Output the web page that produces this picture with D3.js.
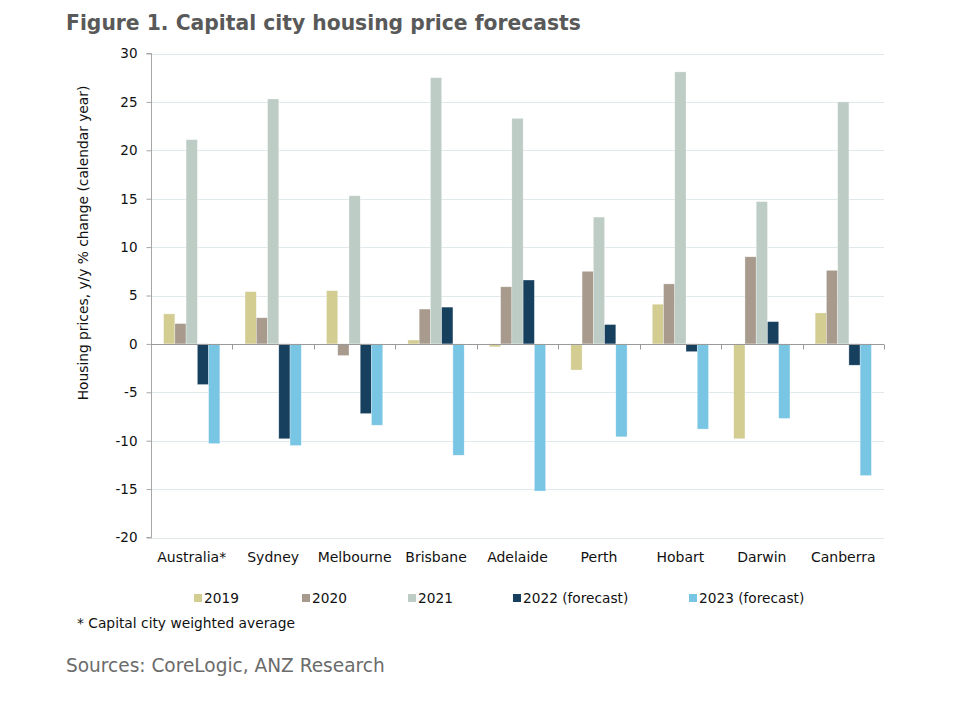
<!DOCTYPE html>
<html>
<head>
<meta charset="utf-8">
<script src="https://cdn.jsdelivr.net/npm/d3@7"></script>
<style>
  html, body { margin: 0; padding: 0; background: #fff; }
  text { font-family: "DejaVu Sans", Verdana, sans-serif; }
</style>
</head>
<body>
<svg id="chart" width="960" height="722"></svg>
<script>
const categories = ["Australia*", "Sydney", "Melbourne", "Brisbane", "Adelaide", "Perth", "Hobart", "Darwin", "Canberra"];
const seriesNames = ["2019", "2020", "2021", "2022 (forecast)", "2023 (forecast)"];
const seriesColors = ["#d3cd92", "#a89b8e", "#bdccc5", "#17405f", "#78c5e4"];
const v2019 = [3.1, 5.4, 5.5, 0.4, -0.3, -2.7, 4.1, -9.8, 3.2];
const v2020 = [2.1, 2.7, -1.2, 3.6, 5.9, 7.5, 6.2, 9.0, 7.6];
const v2021 = [21.1, 25.3, 15.3, 27.5, 23.3, 13.1, 28.1, 14.7, 25.0];
const v2022 = [-4.2, -9.8, -7.2, 3.8, 6.6, 2.0, -0.8, 2.3, -2.2];
const v2023 = [-10.3, -10.5, -8.4, -11.5, -15.2, -9.6, -8.8, -7.7, -13.6];
const yTicks = [30, 25, 20, 15, 10, 5, 0, -5, -10, -15, -20];

const seriesValues = [v2019, v2020, v2021, v2022, v2023];
const data = categories.map((c, i) => ({
  cat: c,
  vals: seriesNames.map((s, j) => ({ s, j, v: seriesValues[j][i] }))
}));

const svg = d3.select("#chart");
const pLeft = 151, pRight = 884, pTop = 53.5, pBottom = 537.5;

const x = d3.scaleBand().domain(categories).range([pLeft, pRight]).paddingInner(0).paddingOuter(0);
const xs = d3.scaleBand().domain(seriesNames).range([0, x.bandwidth()]).paddingInner(0).paddingOuter(1.12);
const y = d3.scaleLinear().domain([-20, 30]).range([pBottom, pTop]);

function fit(sel, target) {
  const n = sel.node();
  const fs = parseFloat(sel.attr("font-size"));
  const w = n.getComputedTextLength();
  if (w > 0) sel.attr("font-size", (fs * target / w).toFixed(2));
}

// gridlines
svg.append("g").selectAll("line").data(yTicks.filter(t => t !== 0)).join("line")
  .attr("x1", pLeft).attr("x2", pRight)
  .attr("y1", d => Math.round(y(d)) + 0.5).attr("y2", d => Math.round(y(d)) + 0.5)
  .attr("stroke", "#e2e9ec").attr("stroke-width", 1);

// y axis
const yAxis = d3.axisLeft(y).tickValues(yTicks).tickSize(5).tickPadding(9).tickFormat(d => String(d));
const gy = svg.append("g").attr("transform", `translate(${pLeft + 0.5},0)`).call(yAxis);
gy.select(".domain").attr("stroke", "#a6a6a6").attr("d", `M-5,${y(30)}H0V${y(-20)}H-5`);
gy.selectAll(".tick line").attr("stroke", "#a6a6a6");
gy.selectAll(".tick text").attr("font-size", 13.5).attr("fill", "#111")
  .attr("font-family", '"DejaVu Sans", Verdana, sans-serif');

// bars
const groups = svg.append("g").selectAll("g").data(data).join("g")
  .attr("transform", d => `translate(${x(d.cat)},0)`);
groups.selectAll("rect").data(d => d.vals).join("rect")
  .attr("x", d => xs(d.s))
  .attr("width", xs.bandwidth())
  .attr("y", d => y(Math.max(0, d.v)))
  .attr("height", d => Math.abs(y(d.v) - y(0)))
  .attr("fill", d => seriesColors[d.j])
  .attr("stroke", "#ffffff").attr("stroke-opacity", 0.5).attr("stroke-width", 0.6);

// zero axis with category ticks
const xAxis = d3.axisBottom(x).tickSize(0).tickFormat("");
const gx = svg.append("g").attr("transform", `translate(0,${Math.round(y(0)) + 0.5})`).call(xAxis);
gx.select(".domain").attr("stroke", "#9a9a9a").attr("d", `M${pLeft},0H${pRight}`);
gx.selectAll(".tick").remove();
svg.append("g").selectAll("line").data(categories).join("line")
  .attr("x1", d => Math.round(x(d) + x.bandwidth()) + 0.5)
  .attr("x2", d => Math.round(x(d) + x.bandwidth()) + 0.5)
  .attr("y1", Math.round(y(0)) + 0.5).attr("y2", Math.round(y(0)) + 5.5)
  .attr("stroke", "#9a9a9a");

// category labels
svg.append("g").selectAll("text").data(categories).join("text")
  .attr("x", d => x(d) + x.bandwidth() / 2)
  .attr("y", 562)
  .attr("text-anchor", "middle")
  .attr("font-size", 14)
  .attr("fill", "#111")
  .text(d => d);

// y title
const yt = svg.append("text")
  .attr("transform", `translate(88,243) rotate(-90)`)
  .attr("text-anchor", "middle")
  .attr("font-size", 13)
  .attr("fill", "#111")
  .text("Housing prices, y/y % change (calendar year)");
fit(yt, 315);

// title
const title = svg.append("text").attr("x", 66).attr("y", 30)
  .attr("font-size", 20).attr("font-weight", "bold").attr("fill", "#595959")
  .text("Figure 1. Capital city housing price forecasts");
fit(title, 515);

// legend
const legendX = [194, 302, 408, 513, 689];
const lg = svg.append("g").selectAll("g").data(seriesNames).join("g")
  .attr("transform", (d, i) => `translate(${legendX[i]},598)`);
lg.append("rect").attr("x", 0).attr("y", -4).attr("width", 8).attr("height", 8)
  .attr("fill", (d, i) => seriesColors[i]);
lg.append("text").attr("x", 10).attr("y", 5).attr("font-size", 13.7).attr("fill", "#111").text(d => d);

// footnote
svg.append("text").attr("x", 77).attr("y", 628).attr("font-size", 13.8).attr("fill", "#111")
  .text("* Capital city weighted average");

// sources
const src = svg.append("text").attr("x", 66).attr("y", 672).attr("font-size", 18).attr("fill", "#6b6b6b")
  .text("Sources: CoreLogic, ANZ Research");
fit(src, 319);
</script>
</body>
</html>
